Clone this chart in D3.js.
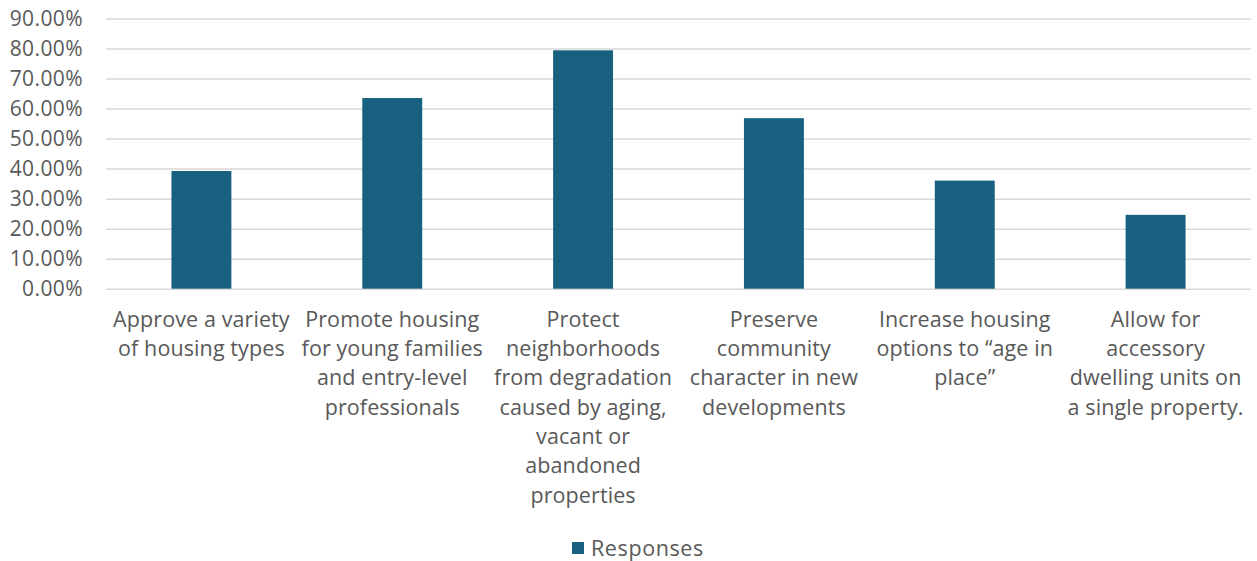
<!DOCTYPE html>
<html>
<head>
<meta charset="utf-8">
<script src="https://cdn.jsdelivr.net/npm/d3@7"></script>
<style>
  html, body { margin: 0; padding: 0; background: #ffffff; }
  svg { display: block; }
  text { font-family: "Open Sans", "Noto Sans", sans-serif; fill: #595959; }
</style>
</head>
<body>
<svg id="chart" width="1257" height="561"></svg>
<script>
// Survey categories, each split into its wrapped display lines
const categories = [
  ["Approve a variety", "of housing types"],
  ["Promote housing", "for young families", "and entry-level", "professionals"],
  ["Protect", "neighborhoods", "from degradation", "caused by aging,", "vacant or", "abandoned", "properties"],
  ["Preserve", "community", "character in new", "developments"],
  ["Increase housing", "options to \u201cage in", "place\u201d"],
  ["Allow for", "accessory", "dwelling units on", "a single property."]
];
const responses = [0.392, 0.635, 0.794, 0.568, 0.360, 0.246];
const yTicks = [0, 0.1, 0.2, 0.3, 0.4, 0.5, 0.6, 0.7, 0.8, 0.9];
const seriesName = "Responses";

const svg = d3.select("#chart");
const margin = { top: 18.5, right: 6, bottom: 272.3, left: 106 };
const W = 1257, H = 561;
const innerW = W - margin.left - margin.right;
const innerH = H - margin.top - margin.bottom;
const barColor = "#17607f";

const g = svg.append("g").attr("transform", `translate(${margin.left},${margin.top})`);

const x = d3.scaleBand()
  .domain(d3.range(categories.length))
  .range([0, innerW])
  .paddingInner(0.686)
  .paddingOuter(0.343);

const y = d3.scaleLinear().domain([0, 0.9]).range([innerH, 0]);

// Horizontal gridlines with percentage tick labels
const yAxis = d3.axisLeft(y)
  .tickValues(yTicks)
  .tickSize(-innerW)
  .tickPadding(23)
  .tickFormat(d3.format(".2%"));

const ya = g.append("g").call(yAxis);
ya.select(".domain").remove();
ya.selectAll(".tick line").attr("stroke", "#d9d9d9").attr("stroke-width", 1.5);
ya.selectAll(".tick text")
  .attr("font-size", 21)
  .attr("fill", "#595959")
  .attr("letter-spacing", 0.4)
  .style("font-family", "'Open Sans', sans-serif");

// Bars
g.selectAll("rect.bar")
  .data(responses)
  .join("rect")
  .attr("class", "bar")
  .attr("x", (d, i) => x(i))
  .attr("width", x.bandwidth())
  .attr("y", d => y(d))
  .attr("height", d => innerH - y(d))
  .attr("fill", barColor);

// Category labels below the axis
const lineH = 29.3;
const labels = g.append("g").attr("class", "x-labels");
categories.forEach((lines, i) => {
  const cx = x(i) + x.bandwidth() / 2;
  const t = labels.append("text")
    .attr("text-anchor", "middle")
    .attr("font-size", 21.5)
    .attr("letter-spacing", 0.1)
    .attr("x", cx)
    .attr("y", innerH + 38);
  lines.forEach((ln, k) => {
    t.append("tspan")
      .attr("x", cx)
      .attr("y", innerH + 38 + k * lineH)
      .text(ln);
  });
});

// Legend
const legend = svg.append("g").attr("transform", "translate(572,542)");
legend.append("rect").attr("width", 12).attr("height", 12).attr("fill", barColor);
legend.append("text")
  .attr("x", 19)
  .attr("y", 14)
  .attr("font-size", 21.5)
  .attr("letter-spacing", 0.6)
  .text(seriesName);
</script>
</body>
</html>
